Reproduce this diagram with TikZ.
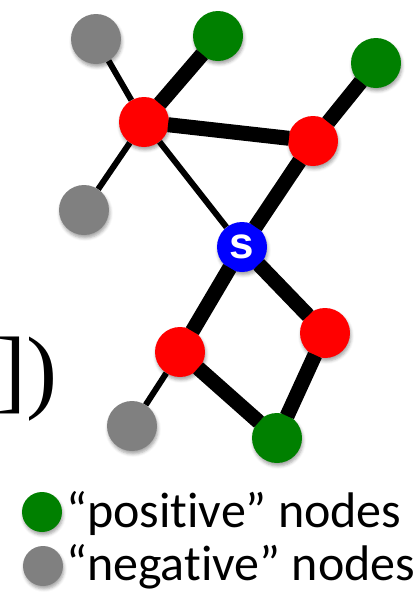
\documentclass[tikz,border=0pt]{standalone}
\usepackage{fontspec}
\setsansfont{Carlito}[Ligatures=NoCommon]
\newfontfamily\sfont{Liberation Sans}
\newfontfamily\rmbig{Liberation Serif}
\usetikzlibrary{positioning,shadows.blur}
\tikzset{
  vertex/.style={circle, minimum size=50pt, inner sep=0pt,
    blur shadow={shadow xshift=1pt, shadow yshift=-3pt, shadow blur radius=3pt, shadow opacity=35}},
  posnode/.style={vertex, fill=green!50!black},
  negnode/.style={vertex, fill=gray},
  midnode/.style={vertex, fill=red},
  seed/.style={vertex, fill=blue, text=white, font=\sfont\bfseries\fontsize{44}{44}\selectfont},
  keynode/.style={circle, minimum size=40pt, inner sep=0pt,
    blur shadow={shadow xshift=1pt, shadow yshift=-3pt, shadow blur radius=3pt, shadow opacity=35}},
  keytext/.style={anchor=base west, inner sep=0pt, font=\sffamily\fontsize{50}{50}\selectfont},
  bigedge/.style={line width=15pt, draw=black, shorten <=-1pt, shorten >=-1pt},
  smalledge/.style={line width=6pt, draw=black}
}

\begin{document}
\begin{tikzpicture}[on grid]
  \useasboundingbox (0,0) rectangle (416pt,-592pt);
  \node[seed] (s) at (242pt,-247pt) {s};
  \node[midnode, above left=125pt and 98pt of s] (r1) {};
  \node[midnode, above right=106pt and 71pt of s] (r2) {};
  \node[midnode, below left=105pt and 62pt of s] (r3) {};
  \node[midnode, below right=86pt and 83pt of s] (r4) {};
  \node[negnode, above left=83pt and 48pt of r1] (neg1) {};
  \node[posnode, above right=86pt and 74pt of r1] (pos1) {};
  \node[negnode, below left=88pt and 60pt of r1] (neg2) {};
  \node[posnode, above right=78pt and 63pt of r2] (pos2) {};
  \node[negnode, below left=74pt and 48pt of r3] (neg3) {};
  \node[posnode, below right=86pt and 97pt of r3] (pos3) {};

  % left-over end of the formula
  \node[anchor=base east, inner sep=0pt, font=\rmbig\fontsize{93}{93}\selectfont] (paren) at (58pt,-401pt) {])};

  \draw[smalledge] (neg1) -- (r1);
  \draw[smalledge] (r1) -- (neg2);
  \draw[smalledge] (r1) -- (s);
  \draw[smalledge] (r3) -- (neg3);
  \draw[bigedge] (pos1) -- (r1);
  \draw[bigedge] (r1) -- (r2);
  \draw[bigedge] (r2) -- (pos2);
  \draw[bigedge] (r2) -- (s);
  \draw[bigedge] (s) -- (r3);
  \draw[bigedge] (r3) -- (pos3);
  \draw[bigedge] (pos3) -- (r4);
  \draw[bigedge] (r4) -- (s);

  % key
  \node[keynode, fill=green!50!black] (poskey) at (42pt,-512pt) {};
  \node[keynode, fill=gray] (negkey) at (43pt,-566pt) {};
  \node[keytext] (postext) at (66pt,-527pt) {“positive” nodes};
  \node[keytext] (negtext) at (66pt,-580pt) {“negative” nodes};
\end{tikzpicture}
\end{document}
